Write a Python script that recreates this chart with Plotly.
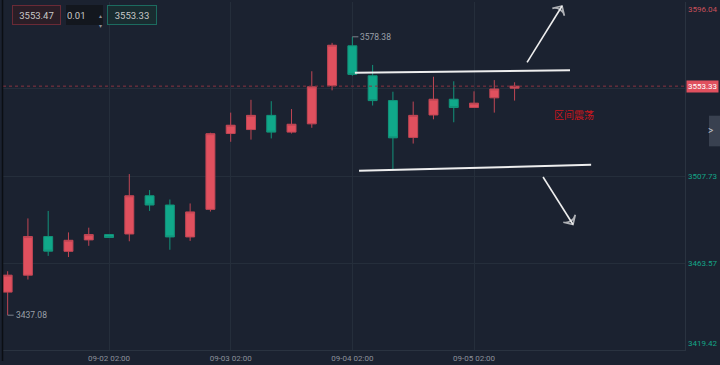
import plotly.graph_objects as go
import pandas as pd

# ---------------- data ----------------
times = pd.date_range("2025-09-01 06:00", periods=26, freq="4h")
opens = [3448.8, 3457.4, 3477.0, 3469.5, 3475.3, 3478.0, 3478.3, 3497.7, 3493.0, 3476.8,
         3490.8, 3529.3, 3531.3, 3538.5, 3530.0, 3534.2, 3553.6, 3573.8, 3558.6, 3546.0,
         3527.3, 3538.7, 3546.7, 3542.5, 3547.4, 3552.3]
highs = [3459.4, 3486.2, 3490.0, 3479.1, 3481.5, 3478.3, 3508.7, 3500.6, 3495.8, 3493.8,
         3529.7, 3539.9, 3546.4, 3545.7, 3541.7, 3560.9, 3575.3, 3578.38, 3564.1, 3550.5,
         3545.5, 3558.1, 3555.8, 3550.7, 3556.4, 3555.3]
lows = [3437.08, 3455.2, 3467.2, 3466.6, 3472.3, 3476.3, 3474.6, 3490.0, 3470.3, 3474.8,
        3489.7, 3525.1, 3526.2, 3526.8, 3529.3, 3532.2, 3551.2, 3558.6, 3543.5, 3510.9,
        3524.2, 3536.5, 3535.0, 3542.4, 3539.9, 3546.0]
closes = [3457.4, 3477.0, 3469.6, 3475.1, 3478.0, 3476.5, 3497.7, 3493.0, 3476.8, 3489.5,
          3529.2, 3533.5, 3538.5, 3530.0, 3534.0, 3553.0, 3574.1, 3559.3, 3546.0, 3527.1,
          3538.5, 3546.7, 3542.5, 3544.7, 3551.9, 3553.33]

axis_labels = [3596.04, 3507.73, 3463.57, 3419.42]
grid_levels = [3463.57, 3507.73, 3551.89]
x_ticks = ["2025-09-02 02:00", "2025-09-03 02:00", "2025-09-04 02:00", "2025-09-05 02:00"]
x_tick_text = ["09-02 02:00", "09-03 02:00", "09-04 02:00", "09-05 02:00"]

ask_price = "3553.47"
bid_price = "3553.33"
lot_size = "0.01"

upper_line_t = ["2025-09-04 02:30", "2025-09-05 20:56"]
upper_line_p = [3560.1, 3561.4]
lower_line_t = ["2025-09-04 03:19", "2025-09-06 01:06"]
lower_line_p = [3510.4, 3513.4]
arrow_up_t = ["2025-09-05 12:28", "2025-09-05 19:22"]
arrow_up_p = [3565.4, 3594.0]
arrow_dn_t = ["2025-09-05 15:37", "2025-09-05 21:32"]
arrow_dn_p = [3507.2, 3483.1]
note_t = "2025-09-05 21:44"
note_p = 3538.9
note_text = "区间震荡"

# ---------------- style ----------------
BG = "#1b2230"
RED = "#e0505e"
RED_LINE = "#c04654"
GREEN = "#10a88a"
GREEN_LINE = "#12937a"
GRID = "#252e3b"
TEAL_TXT = "#14a487"
FONT = "Roboto, sans-serif"

fig = go.Figure()
fig.add_trace(go.Candlestick(
    x=times, open=opens, high=highs, low=lows, close=closes,
    increasing=dict(fillcolor=RED, line=dict(color=RED_LINE, width=1)),
    decreasing=dict(fillcolor=GREEN, line=dict(color=GREEN_LINE, width=1)),
    whiskerwidth=0, hoverinfo="skip", showlegend=False,
))

# hand-drawn lines
for tx, pv in [(upper_line_t, upper_line_p), (lower_line_t, lower_line_p)]:
    fig.add_trace(go.Scatter(x=tx, y=pv, mode="lines",
                             line=dict(color="#eeeeee", width=2),
                             hoverinfo="skip", showlegend=False))
for tx, pv in [(arrow_up_t, arrow_up_p), (arrow_dn_t, arrow_dn_p)]:
    fig.add_trace(go.Scatter(x=tx, y=pv, mode="lines+markers",
                             line=dict(color="#eeeeee", width=1.6),
                             marker=dict(symbol="arrow-wide-open", size=[0, 10],
                                         angleref="previous", color="#eeeeee",
                                         line=dict(color="#eeeeee", width=1.6)),
                             hoverinfo="skip", showlegend=False))

fig.add_annotation(x=note_t, y=note_p, text=note_text, showarrow=False,
                   font=dict(family="Noto Sans CJK SC", size=10, color="#c8161d"))

# min / max labels
imax = highs.index(max(highs))
imin = lows.index(min(lows))
fig.add_shape(type="line", xref="x", yref="y", xsizemode="pixel", xanchor=times[imax],
              x0=0, x1=6, y0=highs[imax], y1=highs[imax], line=dict(color="#7c828c", width=1))
fig.add_annotation(x=times[imax], y=highs[imax], text=f"{highs[imax]:.2f}", showarrow=False,
                   xanchor="left", xshift=6, yshift=0,
                   font=dict(family=FONT, size=8.5, color="#9aa0a8"))
fig.add_shape(type="line", xref="x", yref="y", xsizemode="pixel", xanchor=times[imin],
              x0=0, x1=6, y0=lows[imin], y1=lows[imin], line=dict(color="#7c828c", width=1))
fig.add_annotation(x=times[imin], y=lows[imin], text=f"{lows[imin]:.2f}", showarrow=False,
                   xanchor="left", xshift=6, yshift=0,
                   font=dict(family=FONT, size=8.5, color="#9aa0a8"))

# current price dotted line + label
last = closes[-1]
fig.add_shape(type="line", xref="paper", yref="y", x0=0, x1=1, y0=last, y1=last,
              line=dict(color="#8a3441", width=1, dash="dot"))
fig.add_annotation(xref="paper", yref="y", x=1, y=last, text=f"{last:.2f}", showarrow=False,
                   xanchor="left", xshift=1, bgcolor=RED, borderpad=1,
                   font=dict(family=FONT, size=8, color="#ffffff"))

# right axis labels
for i, v in enumerate(axis_labels):
    shift = -7 if i == 0 else (7 if i == len(axis_labels) - 1 else 0)
    col = "#c9505b" if v > last else TEAL_TXT
    fig.add_annotation(xref="paper", yref="y", x=1, y=v, text=f"{v:.2f}", showarrow=False,
                       xanchor="left", xshift=1, yshift=shift,
                       font=dict(family=FONT, size=8, color=col))

# top-left order boxes
W = 682.0
H = 352.0
def px(x):
    return (x - 3) / W
def py(y):
    return (354 - y) / H

fig.add_annotation(xref="paper", yref="paper", x=px(12), y=py(5), xanchor="left", yanchor="top",
                   text=ask_price, showarrow=False, width=47, height=18, borderpad=0,
                   bordercolor="#6a2a36", borderwidth=1, bgcolor="#2a1e27",
                   font=dict(family=FONT, size=9.5, color="#c8c8c8"))
fig.add_annotation(xref="paper", yref="paper", x=px(66), y=py(5), xanchor="left", yanchor="top",
                   text=lot_size, showarrow=False, width=35, height=18, borderpad=0,
                   borderwidth=1, bordercolor="#13171e", bgcolor="#13171e", align="left",
                   font=dict(family=FONT, size=9.5, color="#c8c8c8"))
fig.add_annotation(xref="paper", yref="paper", x=px(97), y=py(10), text="▴", showarrow=False,
                   font=dict(size=6, color="#8a8f99"))
fig.add_annotation(xref="paper", yref="paper", x=px(97), y=py(20), text="▾", showarrow=False,
                   font=dict(size=6, color="#8a8f99"))
fig.add_annotation(xref="paper", yref="paper", x=px(107), y=py(5), xanchor="left", yanchor="top",
                   text=bid_price, showarrow=False, width=48, height=18, borderpad=0,
                   bordercolor="#1c6b5f", borderwidth=1, bgcolor="#192c30",
                   font=dict(family=FONT, size=9.5, color="#c8c8c8"))

# side tab
fig.add_shape(type="rect", xref="paper", yref="paper", x0=px(709), x1=px(721), y0=py(148), y1=py(117),
              fillcolor="#394150", line=dict(width=0), layer="above")
fig.add_annotation(xref="paper", yref="paper", x=px(715), y=py(132), text=">", showarrow=False,
                   font=dict(family=FONT, size=10, color="#c0c4cc"))

# left dark edge
fig.add_shape(type="line", xref="paper", yref="paper", x0=px(2.5), x1=px(2.5), y0=py(365), y1=py(0),
              line=dict(color="#0b0e13", width=1.5))

fig.update_layout(
    width=720, height=365,
    margin=dict(l=3, r=35, t=2, b=11),
    paper_bgcolor=BG, plot_bgcolor=BG,
    boxgap=0.37,
    xaxis=dict(type="date", range=["2025-09-01 05:05", "2025-09-06 19:37"],
               rangeslider=dict(visible=False),
               tickvals=x_ticks, ticktext=x_tick_text,
               showgrid=True, gridcolor=GRID, gridwidth=1,
               showline=True, linecolor="#2a3340", linewidth=1,
               ticks="", tickfont=dict(family=FONT, size=8, color="#8b909a"),
               zeroline=False),
    yaxis=dict(side="right", range=[3419.42, 3596.04],
               tickvals=grid_levels, showticklabels=False,
               showgrid=True, gridcolor=GRID, gridwidth=1,
               showline=True, linecolor="#2a3340", linewidth=1,
               zeroline=False, ticks=""),
)

fig.write_html(
    "out.html",
    config={"displayModeBar": False, "staticPlot": True},
    post_script="document.body.style.margin='0';document.body.style.padding='0';"
                "document.body.style.background='" + BG + "';document.body.style.overflow='hidden';",
)
